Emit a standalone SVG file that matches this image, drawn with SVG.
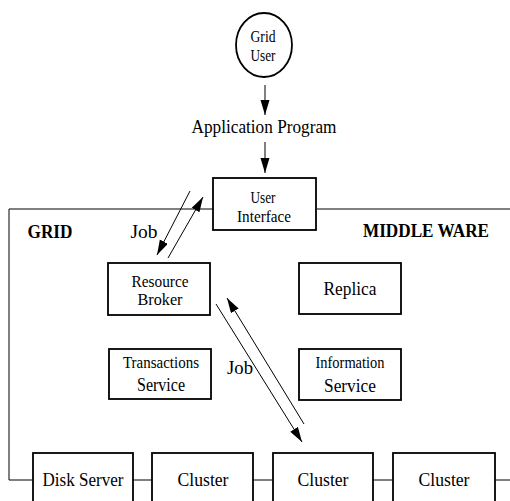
<svg xmlns="http://www.w3.org/2000/svg" width="510" height="501" viewBox="0 0 510 501">
  <style>
    .box { fill: #fff; stroke: #000; stroke-width: 1.8; }
    .line { fill: none; stroke: #000; stroke-width: 1; }
    .arrow { fill: none; stroke: #000; stroke-width: 1; marker-end: url(#head); }
    text { font-family: 'Liberation Serif', 'Times New Roman', Times, 'DejaVu Serif', serif; fill: #000; text-anchor: middle; }
    .lbl { font-size: 19px; }
    .sm { font-size: 16.5px; }
    .bold { font-size: 18px; font-weight: bold; }
  </style>
  <defs>
    <marker id="head" markerUnits="userSpaceOnUse" markerWidth="16" markerHeight="10" refX="15" refY="4.5" orient="auto">
      <path d="M0,0 L15,4.5 L0,9 Z" fill="#000"/>
    </marker>
  </defs>

  <rect width="510" height="501" fill="#fff"/>

  <!-- middleware boundary -->
  <g id="middleware-frame">
    <polyline class="line" points="213,209 9,209 9,480 33,480"/>
    <line class="line" x1="317" y1="209" x2="510" y2="209"/>
    <text class="bold" x="50" y="238" textLength="45" lengthAdjust="spacingAndGlyphs">GRID</text>
    <text class="bold" x="426" y="237" textLength="126" lengthAdjust="spacingAndGlyphs">MIDDLE WARE</text>
  </g>

  <!-- connectors -->
  <g id="connectors">
    <line class="arrow" x1="265" y1="85" x2="265" y2="115"/>
    <line class="arrow" x1="265" y1="142" x2="265" y2="173"/>
    <line class="arrow" x1="190" y1="191" x2="157" y2="255"/>
    <line class="arrow" x1="168" y1="258" x2="203" y2="197"/>
    <line class="arrow" x1="216" y1="304" x2="302" y2="442"/>
    <line class="arrow" x1="304" y1="424" x2="227" y2="298"/>
    <line class="line" x1="133" y1="480" x2="152" y2="480"/>
    <line class="line" x1="253" y1="480" x2="273" y2="480"/>
    <line class="line" x1="373" y1="480" x2="393" y2="480"/>
    <line class="line" x1="495" y1="480" x2="510" y2="480"/>
    <text class="lbl" x="144" y="238" textLength="27" lengthAdjust="spacingAndGlyphs">Job</text>
    <text class="lbl" x="240" y="374" textLength="26" lengthAdjust="spacingAndGlyphs">Job</text>
  </g>

  <g id="grid-user">
    <ellipse cx="264" cy="45" rx="28" ry="32" fill="#fff" stroke="#000" stroke-width="1.8"/>
    <text class="sm" x="263" y="42" textLength="25" lengthAdjust="spacingAndGlyphs">Grid</text>
    <text class="sm" x="263" y="61" textLength="25" lengthAdjust="spacingAndGlyphs">User</text>
  </g>

  <g id="application-program">
    <text class="lbl" x="264" y="133" textLength="145" lengthAdjust="spacingAndGlyphs">Application Program</text>
  </g>

  <g id="user-interface">
    <rect class="box" x="213" y="178" width="103" height="52"/>
    <text class="sm" x="263" y="203" textLength="25" lengthAdjust="spacingAndGlyphs">User</text>
    <text class="sm" x="264" y="222" textLength="54" lengthAdjust="spacingAndGlyphs">Interface</text>
  </g>

  <g id="resource-broker">
    <rect class="box" x="108" y="263" width="102" height="52"/>
    <text class="sm" x="160" y="287" textLength="57" lengthAdjust="spacingAndGlyphs">Resource</text>
    <text class="sm" x="160" y="305" textLength="45" lengthAdjust="spacingAndGlyphs">Broker</text>
  </g>

  <g id="replica">
    <rect class="box" x="299" y="263" width="102" height="51"/>
    <text class="lbl" x="350" y="295" textLength="53" lengthAdjust="spacingAndGlyphs">Replica</text>
  </g>

  <g id="transactions-service">
    <rect class="box" x="109" y="349" width="102" height="50"/>
    <text class="sm" x="161" y="368" textLength="76" lengthAdjust="spacingAndGlyphs">Transactions</text>
    <text class="lbl" x="161" y="391" textLength="48" lengthAdjust="spacingAndGlyphs">Service</text>
  </g>

  <g id="information-service">
    <rect class="box" x="299" y="349" width="102" height="51"/>
    <text class="sm" x="350" y="368" textLength="69" lengthAdjust="spacingAndGlyphs">Information</text>
    <text class="lbl" x="350" y="392" textLength="52" lengthAdjust="spacingAndGlyphs">Service</text>
  </g>

  <g id="disk-server">
    <rect class="box" x="33" y="453" width="100" height="60"/>
    <text class="lbl" x="83" y="486" textLength="81" lengthAdjust="spacingAndGlyphs">Disk Server</text>
  </g>

  <g id="cluster-1">
    <rect class="box" x="152" y="453" width="101" height="60"/>
    <text class="lbl" x="203" y="486" textLength="51" lengthAdjust="spacingAndGlyphs">Cluster</text>
  </g>

  <g id="cluster-2">
    <rect class="box" x="273" y="453" width="100" height="60"/>
    <text class="lbl" x="323" y="486" textLength="51" lengthAdjust="spacingAndGlyphs">Cluster</text>
  </g>

  <g id="cluster-3">
    <rect class="box" x="393" y="453" width="102" height="60"/>
    <text class="lbl" x="444" y="486" textLength="51" lengthAdjust="spacingAndGlyphs">Cluster</text>
  </g>
</svg>
